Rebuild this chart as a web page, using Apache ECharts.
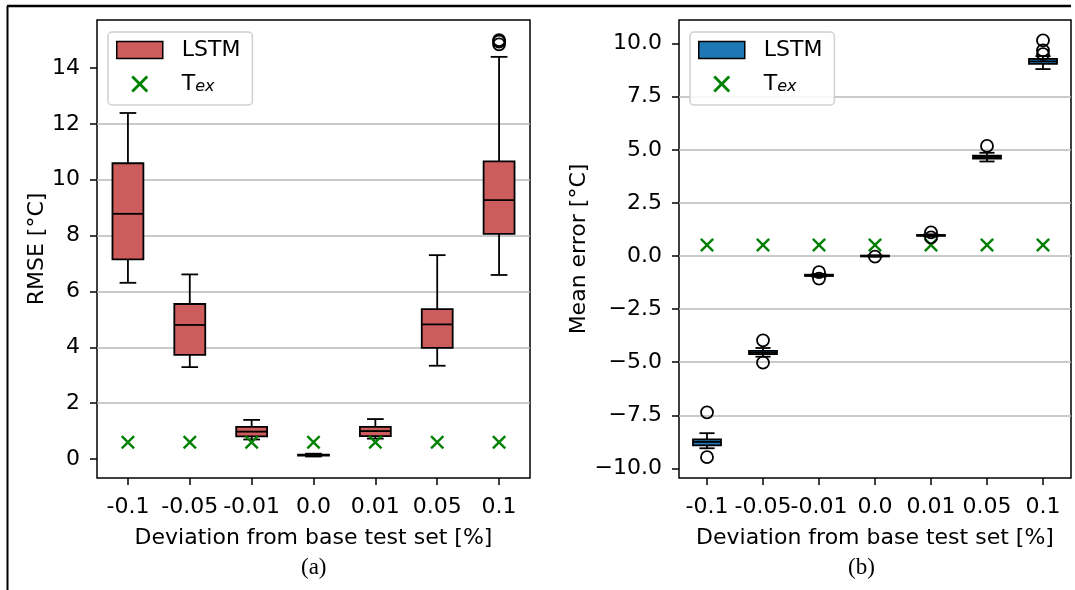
<!DOCTYPE html>
<html><head><meta charset="utf-8">
<script src="https://cdn.jsdelivr.net/npm/echarts@6/dist/echarts.min.js"></script>
<style>html,body{margin:0;padding:0;background:#fff}#c{width:1075px;height:590px}</style>
</head><body><div id="c"></div>
<script>
// ---------- data ----------
const categories = ['-0.1', '-0.05', '-0.01', '0.0', '0.01', '0.05', '0.1'];
// each box: [lower whisker, Q1, median, Q3, upper whisker]
const rmseBoxes = [
  [6.31, 7.15, 8.78, 10.59, 12.39],
  [3.29, 3.73, 4.80, 5.55, 6.61],
  [0.70, 0.81, 0.98, 1.15, 1.40],
  [0.09, 0.12, 0.14, 0.16, 0.19],
  [0.73, 0.82, 1.00, 1.15, 1.43],
  [3.34, 3.98, 4.82, 5.37, 7.30],
  [6.59, 8.06, 9.27, 10.66, 14.40]
];
const rmseOutliers = [[], [], [], [], [], [], [14.85, 14.95, 15.0]];
const rmseTex = [0.6, 0.6, 0.6, 0.6, 0.6, 0.6, 0.6];
const rmseTicks = [0, 2, 4, 6, 8, 10, 12, 14];

const meanBoxes = [
  [-9.05, -8.91, -8.75, -8.63, -8.34],
  [-4.74, -4.62, -4.55, -4.47, -4.33],
  [-0.97, -0.94, -0.91, -0.88, -0.85],
  [-0.03, -0.02, 0.00, 0.02, 0.03],
  [0.92, 0.95, 0.97, 0.99, 1.02],
  [4.45, 4.59, 4.66, 4.72, 4.86],
  [8.80, 9.04, 9.16, 9.28, 9.41]
];
const meanOutliers = [[-7.36, -9.47], [-3.97, -5.02], [-0.76, -1.06], [-0.03], [1.11, 0.88], [5.18], [10.15, 9.68, 9.5]];
const meanTex = [0.52, 0.52, 0.52, 0.52, 0.52, 0.52, 0.52];
const meanTicks = [-10, -7.5, -5, -2.5, 0, 2.5, 5, 7.5, 10];

// ---------- helpers ----------
const FONT = 'DejaVu Sans';
const RED = '#cd5c5c', BLUE = '#1f77b4', GREEN = '#008000';
const XPATH = 'path://M0,1.2L1.2,0L5,3.8L8.8,0L10,1.2L6.2,5L10,8.8L8.8,10L5,6.2L1.2,10L0,8.8L3.8,5Z';

function boxData(boxes) { return boxes.map((b, i) => [i].concat(b)); }
function outlierData(outs) {
  const d = [];
  outs.forEach((arr, i) => arr.forEach(v => d.push([i, v])));
  return d;
}
function makeRender(color) {
  return function (params, api) {
    const x = api.value(0);
    const lo = api.coord([x, api.value(1)]);
    const q1 = api.coord([x, api.value(2)]);
    const md = api.coord([x, api.value(3)]);
    const q3 = api.coord([x, api.value(4)]);
    const hi = api.coord([x, api.value(5)]);
    const band = api.size([1, 0])[0];
    const bw = band * 0.5, cw = band * 0.27, cx = lo[0];
    const ls = { stroke: '#000', lineWidth: 1.8 };
    return {
      type: 'group', children: [
        { type: 'line', shape: { x1: cx, y1: hi[1], x2: cx, y2: q3[1] }, style: ls },
        { type: 'line', shape: { x1: cx, y1: q1[1], x2: cx, y2: lo[1] }, style: ls },
        { type: 'line', shape: { x1: cx - cw / 2, y1: hi[1], x2: cx + cw / 2, y2: hi[1] }, style: ls },
        { type: 'line', shape: { x1: cx - cw / 2, y1: lo[1], x2: cx + cw / 2, y2: lo[1] }, style: ls },
        { type: 'rect', shape: { x: cx - bw / 2, y: q3[1], width: bw, height: Math.max(q1[1] - q3[1], 0.5) }, style: { fill: color, stroke: '#000', lineWidth: 1.8 } },
        { type: 'line', shape: { x1: cx - bw / 2, y1: md[1], x2: cx + bw / 2, y2: md[1] }, style: ls }
      ]
    };
  };
}
const tickLabelStyle = { fontFamily: FONT, fontSize: 22, color: '#000' };
function xAxisCfg(gi) {
  return {
    type: 'category', gridIndex: gi, data: categories,
    name: 'Deviation from base test set [%]', nameLocation: 'middle', nameGap: 49,
    nameTextStyle: { fontFamily: FONT, fontSize: 22, color: '#000' },
    axisLine: { show: false, onZero: false },
    axisTick: { show: true, alignWithLabel: true, length: 7, lineStyle: { color: '#000', width: 1.5 } },
    axisLabel: Object.assign({ interval: 0, margin: 18 }, tickLabelStyle),
    splitLine: { show: false }
  };
}
function legendCfg(left, color) {
  return {
    left: left, top: 32, orient: 'vertical', selectedMode: false,
    itemWidth: 46, itemHeight: 17, itemGap: 12,
    padding: [7, 12, 10, 8],
    borderColor: '#d0d0d0', borderWidth: 1.5, borderRadius: 4,
    backgroundColor: 'rgba(255,255,255,0.85)',
    data: [
      { name: 'LSTM', icon: 'rect', itemStyle: { color: color, borderColor: '#000', borderWidth: 1.5 } },
      { name: 'T_ex', icon: XPATH, itemStyle: { color: GREEN, borderWidth: 0 } }
    ],
    formatter: n => n === 'T_ex' ? '{t|T}{s|ex}' : '{t|LSTM}',
    textStyle: {
      fontFamily: FONT, fontSize: 22, color: '#000', padding: [0, 0, 0, 14],
      rich: {
        t: { fontFamily: FONT, fontSize: 22, color: '#000', lineHeight: 22 },
        s: { fontFamily: FONT, fontSize: 16, fontStyle: 'italic', color: '#000', lineHeight: 10, verticalAlign: 'bottom' }
      }
    }
  };
}

const option = {
  animation: false,
  backgroundColor: '#fff',
  grid: [
    { left: 97, top: 20, width: 433, height: 458, show: true, borderColor: '#000', borderWidth: 1.5, backgroundColor: 'transparent' },
    { left: 679, top: 20, width: 392, height: 458, show: true, borderColor: '#000', borderWidth: 1.5, backgroundColor: 'transparent' }
  ],
  xAxis: [xAxisCfg(0), xAxisCfg(1)],
  yAxis: [
    {
      type: 'value', gridIndex: 0, min: -0.68, max: 15.72, splitNumber: 8, minInterval: 2, maxInterval: 2,
      name: 'RMSE [°C]', nameLocation: 'middle', nameGap: 45, nameRotate: 90,
      nameTextStyle: { fontFamily: FONT, fontSize: 22, color: '#000' },
      axisLine: { show: false, onZero: false },
      axisTick: { show: true, length: 7, customValues: rmseTicks, lineStyle: { color: '#000', width: 1.5 } },
      axisLabel: Object.assign({ margin: 17, customValues: rmseTicks, formatter: v => String(v) }, tickLabelStyle),
      splitLine: { show: true, showMinLine: false, showMaxLine: false, lineStyle: { color: '#b8b8b8', width: 1.5 } }
    },
    {
      type: 'value', gridIndex: 1, min: -10.45, max: 11.11, splitNumber: 9, minInterval: 2.5, maxInterval: 2.5,
      name: 'Mean error [°C]', nameLocation: 'middle', nameGap: 87, nameRotate: 90,
      nameTextStyle: { fontFamily: FONT, fontSize: 22, color: '#000' },
      axisLine: { show: false, onZero: false },
      axisTick: { show: true, length: 7, customValues: meanTicks, lineStyle: { color: '#000', width: 1.5 } },
      axisLabel: Object.assign({ margin: 17, customValues: meanTicks, formatter: v => (v < 0 ? '\u2212' : '') + Math.abs(v).toFixed(1) }, tickLabelStyle),
      splitLine: { show: true, showMinLine: false, showMaxLine: false, lineStyle: { color: '#b8b8b8', width: 1.5 } }
    }
  ],
  legend: [legendCfg(108, RED), legendCfg(690, BLUE)],
  series: [
    { name: 'LSTM', type: 'custom', xAxisIndex: 0, yAxisIndex: 0, itemStyle: { color: RED }, renderItem: makeRender(RED), encode: { x: 0, y: [1, 2, 3, 4, 5] }, data: boxData(rmseBoxes), z: 3 },
    { name: 'rmseOut', type: 'scatter', xAxisIndex: 0, yAxisIndex: 0, symbol: 'circle', symbolSize: 12, itemStyle: { color: 'rgba(255,255,255,0)', borderColor: '#000', borderWidth: 1.8, opacity: 1 }, data: outlierData(rmseOutliers), z: 4 },
    { name: 'T_ex', type: 'scatter', xAxisIndex: 0, yAxisIndex: 0, symbol: XPATH, symbolSize: 14, itemStyle: { color: GREEN, opacity: 1 }, data: rmseTex, z: 5 },
    { name: 'LSTM', type: 'custom', xAxisIndex: 1, yAxisIndex: 1, itemStyle: { color: BLUE }, renderItem: makeRender(BLUE), encode: { x: 0, y: [1, 2, 3, 4, 5] }, data: boxData(meanBoxes), z: 3 },
    { name: 'T_ex', type: 'scatter', xAxisIndex: 1, yAxisIndex: 1, symbol: XPATH, symbolSize: 14, itemStyle: { color: GREEN, opacity: 1 }, data: meanTex, z: 4 },
    { name: 'meanOut', type: 'scatter', xAxisIndex: 1, yAxisIndex: 1, symbol: 'circle', symbolSize: 12, itemStyle: { color: 'rgba(255,255,255,0)', borderColor: '#000', borderWidth: 1.8, opacity: 1 }, data: outlierData(meanOutliers), z: 5 }
  ],
  graphic: [
    { type: 'line', shape: { x1: 7, y1: 6, x2: 1071, y2: 6 }, style: { stroke: '#000', lineWidth: 2.5 } },
    { type: 'line', shape: { x1: 7.5, y1: 6, x2: 7.5, y2: 590 }, style: { stroke: '#000', lineWidth: 2 } },
    { type: 'text', left: 301, top: 556, style: { text: '(a)', font: '23px "Liberation Serif"', fill: '#000' } },
    { type: 'text', left: 848, top: 556, style: { text: '(b)', font: '23px "Liberation Serif"', fill: '#000' } }
  ]
};
const chart = echarts.init(document.getElementById('c'), null, { renderer: 'canvas' });
chart.setOption(option);
</script>
</body></html>
